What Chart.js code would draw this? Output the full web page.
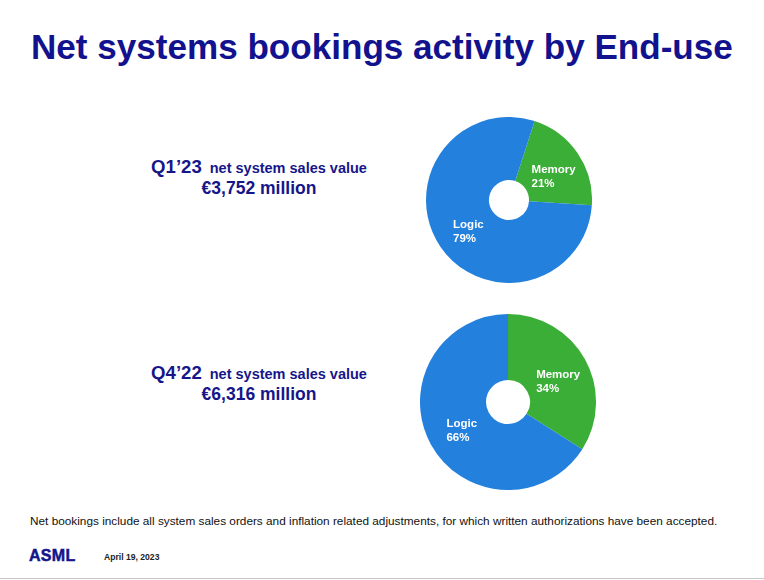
<!DOCTYPE html>
<html>
<head>
<meta charset="utf-8">
<script src="https://cdn.jsdelivr.net/npm/chart.js@4.4.0/dist/chart.umd.min.js"></script>
<style>
  html, body { margin: 0; padding: 0; background: #fff; }
  body { width: 764px; height: 580px; position: relative; overflow: hidden; font-family: 'Liberation Sans', Arial, sans-serif; }
  .abs { position: absolute; white-space: nowrap; }
  .title { left: 31px; top: 27px; font-size: 35.1px; font-weight: bold; color: #12128e; }
  .period { font-weight: bold; color: #16168a; text-align: center; width: 260px; left: 129px; }
  .period .q { font-size: 18.6px; }
  .period .desc { font-size: 14.5px; margin-left: 8px; }
  .period .val { font-size: 17.5px; display: block; margin-top: 0px; }
  .note { left: 30px; top: 514px; font-size: 11.8px; color: #111; }
  .logo { left: 29px; top: 547px; font-size: 16px; font-weight: 900; color: #14148c; letter-spacing: 0.3px; -webkit-text-stroke: 0.5px #14148c; }
  .date { left: 104px; top: 552px; font-size: 8.6px; font-weight: bold; color: #222; }
  .rule { left: 0; top: 578px; width: 764px; height: 1px; background: #c8c8c8; }
  .pie { position: absolute; }
</style>
</head>
<body>
<div class="abs title">Net systems bookings activity by End-use</div>

<div class="abs period" id="p0" style="top:156px;"></div>
<div class="abs period" id="p1" style="top:362px;"></div>

<div class="pie" style="left:426px; top:117px; width:166px; height:166px;"><canvas id="pieTop"></canvas></div>
<div class="pie" style="left:420px; top:314px; width:176px; height:176px;"><canvas id="pieBottom"></canvas></div>

<div class="abs note">Net bookings include all system sales orders and inflation related adjustments, for which written authorizations have been accepted.</div>
<div class="abs logo">ASML</div>
<div class="abs date">April 19, 2023</div>
<div class="abs rule"></div>

<script>
// --- data ---
const segments = ['Memory', 'Logic'];
const q123Share = [21, 79];
const q422Share = [34, 66];
const periods = ["Q1\u201923", "Q4\u201922"];
const salesValue = ['\u20ac3,752 million', '\u20ac6,316 million'];

const segmentColors = ['#3aae36', '#2380dd'];

// period headings on the left
periods.forEach((p, i) => {
    const el = document.getElementById('p' + i);
    el.innerHTML = `<span class="q">${p}</span><span class="desc">net system sales value</span><span class="val">${salesValue[i]}</span>`;
});

// draws "Memory / 21%" inside each slice
const sliceLabels = {
    id: 'sliceLabels',
    afterDatasetsDraw(chart) {
        const ctx = chart.ctx;
        const meta = chart.getDatasetMeta(0);
        const values = chart.data.datasets[0].data;
        ctx.save();
        ctx.font = 'bold 11.5px "Liberation Sans", Arial, sans-serif';
        ctx.fillStyle = '#ffffff';
        ctx.textAlign = 'left';
        ctx.textBaseline = 'alphabetic';
        meta.data.forEach((arc, i) => {
            const pt = arc.getCenterPoint();
            const name = chart.data.labels[i];
            const pct = values[i] + '%';
            const w = Math.max(ctx.measureText(name).width, ctx.measureText(pct).width);
            const x = pt.x - w / 2 + 2;
            const y = i === 0 ? pt.y + 2 : pt.y - 1;
            ctx.fillText(name, x, y);
            ctx.fillText(pct, x, y + 14);
        });
        ctx.restore();
    }
};

function makePie(id, values, rotation, cutout) {
    return new Chart(document.getElementById(id), {
        type: 'doughnut',
        data: {
            labels: segments,
            datasets: [{
                data: values,
                backgroundColor: segmentColors,
                borderWidth: 0
            }]
        },
        options: {
            responsive: true,
            maintainAspectRatio: false,
            animation: false,
            rotation: rotation,
            cutout: cutout,
            layout: { padding: 0 },
            plugins: {
                legend: { display: false },
                tooltip: { enabled: false }
            }
        },
        plugins: [sliceLabels]
    });
}

makePie('pieTop', q123Share, 18, 20);
makePie('pieBottom', q422Share, 0, 22);
</script>
</body>
</html>
